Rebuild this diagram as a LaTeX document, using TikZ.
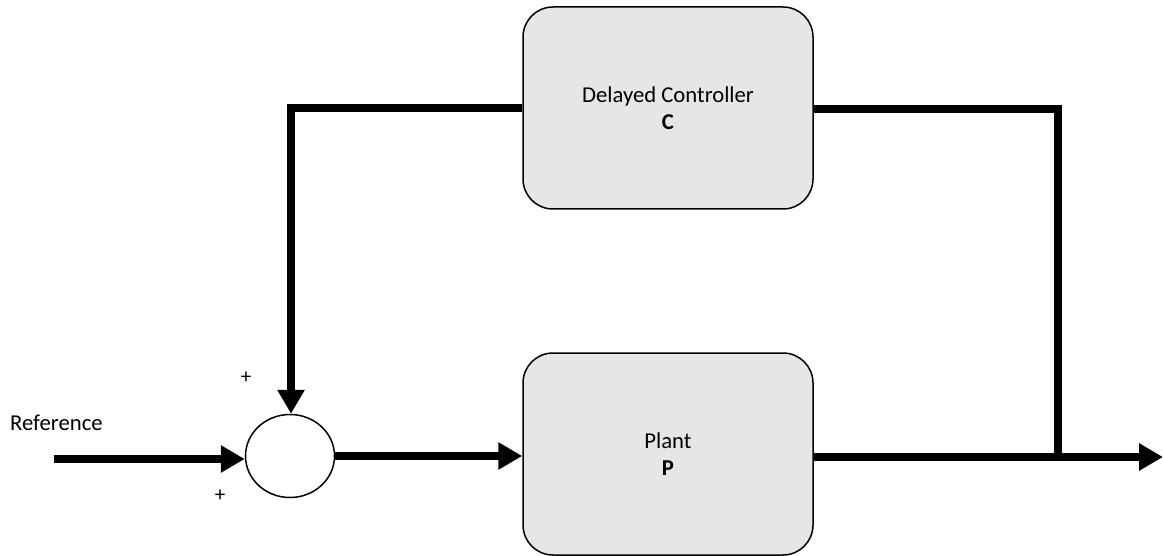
\documentclass[tikz,border=0pt]{standalone}
\usepackage{fontspec}
\setmainfont{Carlito}
\usetikzlibrary{arrows.meta,shapes.geometric}
\definecolor{boxfill}{HTML}{E6E6E6}
\tikzset{
  blockbox/.style={draw=black, line width=1.5pt, fill=boxfill, rounded corners=30pt,
    minimum width=290pt, minimum height=202pt, align=center, inner sep=0pt,
    font=\fontsize{22.7}{27}\selectfont},
  sumnode/.style={draw=black, line width=1.5pt, fill=white, ellipse, minimum width=89pt, minimum height=83pt, inner sep=0pt},
  sig/.style={line width=8.5pt, line join=miter, -{Triangle[length=24pt,width=26pt]}},
  wire/.style={line width=8.5pt, line join=miter},
  lbl/.style={font=\fontsize{22.7}{27}\selectfont, inner sep=0pt},
  sgn/.style={font=\fontsize{21}{24}\selectfont, inner sep=0pt}
}
\begin{document}
\begin{tikzpicture}[x=1pt,y=-1pt]
\useasboundingbox (0,0) rectangle (1163,556);
\node[blockbox] (ctrl) at (668,108) {Delayed Controller\\\textbf{C}};
\node[blockbox] (plant) at (668,454) {Plant\\\textbf{P}};
\node[sumnode] (sum) at (290,456) {};
\node[lbl, anchor=west] (ref) at (10,423) {Reference};
\node[sgn] (p1) at (246,378) {+};
\node[sgn] (p2) at (220,496) {+};
\coordinate (in) at (54,459);
\coordinate (out) at (1163,457);
\coordinate (tl) at (291,108);
\coordinate (tr) at (1058,109);
\coordinate (j) at (1058,457);
\draw[sig] (in) -- (in -| sum.west);
\draw[sig] (sum.east) -- (sum.east -| plant.west);
\draw[sig] (plant.east |- out) -- (out);
\draw[wire] (ctrl.east |- tr) -- (tr) -- (j);
\draw[sig] (ctrl.west) -- (tl) -- (tl |- sum.north);
\end{tikzpicture}
\end{document}
